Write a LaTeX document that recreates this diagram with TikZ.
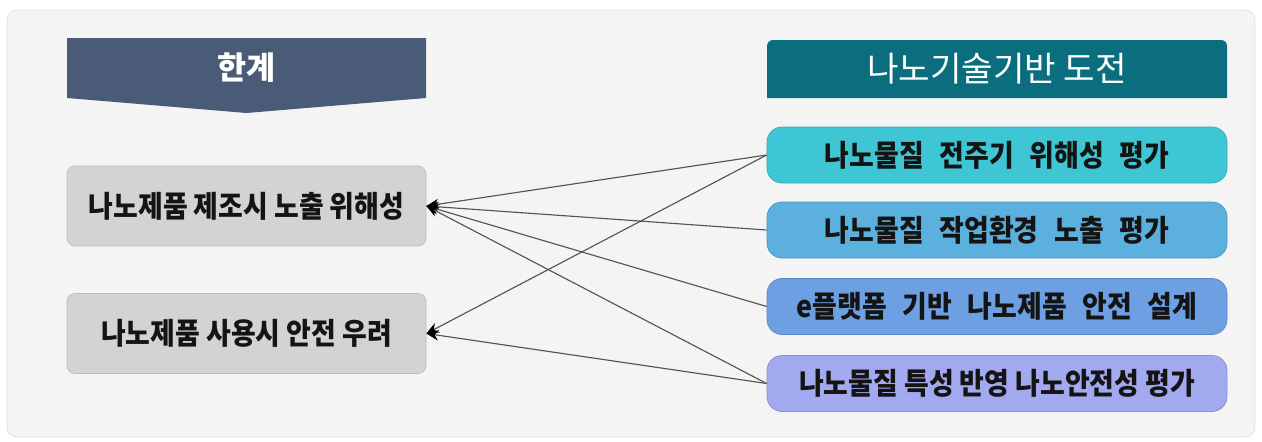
\documentclass[tikz,border=0pt]{standalone}
\usepackage{fontspec}
\newfontfamily\krfont{Noto Sans CJK KR}[FakeStretch=0.9]
\newfontfamily\krhead{Noto Sans CJK KR}
\usetikzlibrary{arrows.meta}
\newcommand\widespace{\spaceskip=9pt\relax}

\definecolor{panelbg}{HTML}{F4F4F4}
\definecolor{panelline}{HTML}{E0E0E0}
\definecolor{headslate}{HTML}{4A5B78}
\definecolor{headteal}{HTML}{0B6E7F}
\definecolor{boxgray}{HTML}{D3D3D3}
\definecolor{boxline}{HTML}{BDBDBD}
\definecolor{chone}{HTML}{3EC6D4}
\definecolor{chtwo}{HTML}{5BB0DD}
\definecolor{chthree}{HTML}{6DA0E3}
\definecolor{chfour}{HTML}{A3A9EE}
\definecolor{linkgray}{HTML}{555555}
\definecolor{textdark}{HTML}{141414}

\begin{document}
\begin{tikzpicture}[
  boxtext/.style={font=\krfont\bfseries\fontsize{17}{19}\selectfont, text=textdark},
  limitbox/.style={boxtext, draw=boxline, fill=boxgray, rounded corners=0.16cm,
    minimum width=7.18cm, minimum height=1.6cm},
  challbox/.style={boxtext, draw=#1!85!black, line width=0.4pt, fill=#1, rounded corners=0.3cm,
    minimum width=9.2cm, minimum height=1.12cm},
  widesp/.style={execute at begin node=\widespace},
  link/.style={draw=linkgray, line width=0.65pt, -{Stealth[length=7pt,width=6pt,color=black]}}
]
  \useasboundingbox (0,0) rectangle (25.24,8.82);
  \draw[draw=panelline, fill=panelbg, rounded corners=0.2cm] (0.14,0.08) rectangle (25.10,8.62);

  \fill[headslate] (1.34,8.06) -- (8.52,8.06) -- (8.52,6.86) -- (4.93,6.56) -- (1.34,6.86) -- cycle;
  \node[text=white, font=\krhead\bfseries\fontsize{18}{20}\selectfont] (limit) at (4.93,7.46) {한계};

  \fill[headteal] (15.34,6.86) [rounded corners=0.12cm] -- (15.34,8.02) -- (24.54,8.02)
    [sharp corners] -- (24.54,6.86) -- cycle;
  \node[text=white, font=\krhead\fontsize{19.5}{22}\selectfont] (challenge) at (19.94,7.44) {나노기술기반 도전};

  \node[limitbox] (lim1) at (4.93,4.70) {나노제품 제조시 노출 위해성};
  \node[limitbox] (lim2) at (4.93,2.15) {나노제품 사용시 안전 우려};

  \node[challbox=chone, widesp] (ch1) at (19.94,5.72) {나노물질 전주기 위해성 평가};
  \node[challbox=chtwo, widesp] (ch2) at (19.94,4.22) {나노물질 작업환경 노출 평가};
  \node[challbox=chthree, widesp] (ch3) at (19.94,2.69) {e플랫폼 기반 나노제품 안전 설계};
  \node[challbox=chfour] (ch4) at (19.94,1.15) {나노물질 특성 반영 나노안전성 평가};

  \draw[link] (ch1.west) -- (lim1.east);
  \draw[link] (ch1.west) -- (lim2.east);
  \draw[link] (ch2.west) -- (lim1.east);
  \draw[link] (ch3.west) -- (lim1.east);
  \draw[link] (ch4.west) -- (lim1.east);
  \draw[link] (ch4.west) -- (lim2.east);
\end{tikzpicture}
\end{document}
